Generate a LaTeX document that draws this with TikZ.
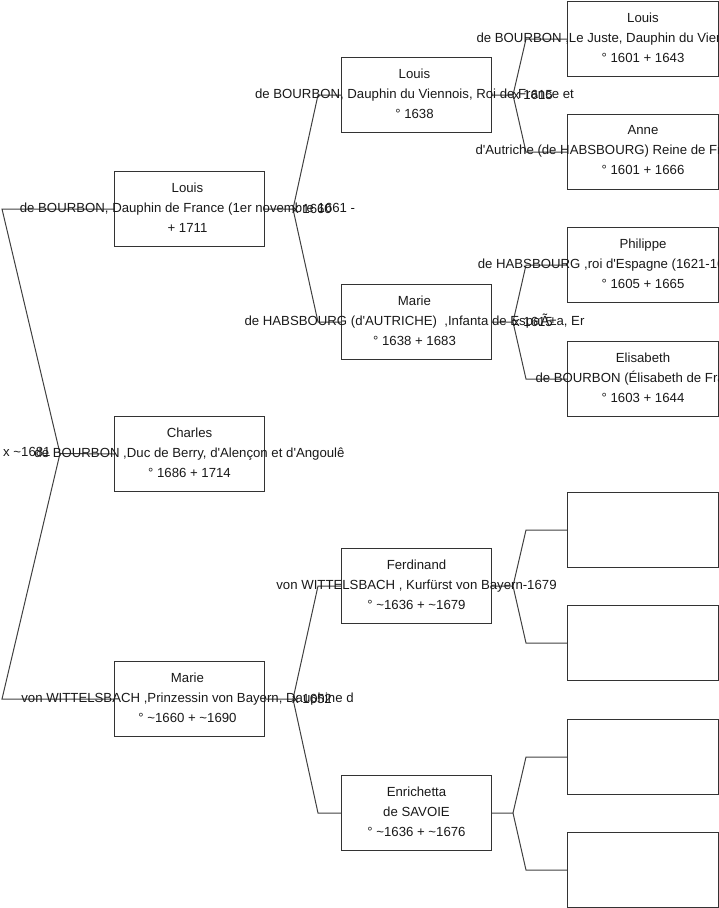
\documentclass[tikz,border=0pt]{standalone}
\usepackage{fontspec}
\newfontfamily\lsans{Liberation Sans}
\begin{document}
\begin{tikzpicture}[x=1pt,y=-1pt,
  box/.style={draw=black!80, line width=1pt, minimum width=150pt, minimum height=75pt, inner sep=0pt, anchor=north west},
  boxw/.style={box, minimum width=151pt},
  txt/.style={align=center, font=\lsans\fontsize{13.2}{20}\selectfont, text=black!90, inner sep=0pt},
  link/.style={draw=black!75, line width=1pt},
  mlabel/.style={anchor=west, font=\lsans\fontsize{13.2}{20}\selectfont, text=black!90, inner sep=0pt}]
\useasboundingbox (0,0) rectangle (719,908);
\begin{scope}
\clip (0,0) rectangle (719,908);
% level 1
\node[box] (louisA) at (114,171) {};
\node[box] (charles) at (114,416) {};
\node[box] (marieA) at (114,661) {};
% level 2
\node[box] (louisB) at (341,57) {};
\node[box] (marieB) at (341,284) {};
\node[box] (ferd) at (341,548) {};
\node[box] (enri) at (341,775) {};
% level 3
\node[boxw] (louisC) at (567,1) {};
\node[boxw] (anne) at (567,114) {};
\node[boxw] (phil) at (567,227) {};
\node[boxw] (elis) at (567,341) {};
\node[boxw] (e1) at (567,492) {};
\node[boxw] (e2) at (567,605) {};
\node[boxw] (e3) at (567,719) {};
\node[boxw] (e4) at (567,832) {};
% root connectors
\coordinate (rootfork) at (60,453.5);
\draw[link] (rootfork) -- ([xshift=-112pt]louisA.west) -- (louisA.west);
\draw[link] (rootfork) -- (charles.west);
\draw[link] (rootfork) -- ([xshift=-112pt]marieA.west) -- (marieA.west);
% level 1 -> 2
\draw[link] (louisA.east) -- ++(28,0) -- ([xshift=-23pt]louisB.west) -- (louisB.west);
\draw[link] (louisA.east) ++(28,0) -- ([xshift=-23pt]marieB.west) -- (marieB.west);
\draw[link] (marieA.east) -- ++(28,0) -- ([xshift=-23pt]ferd.west) -- (ferd.west);
\draw[link] (marieA.east) ++(28,0) -- ([xshift=-23pt]enri.west) -- (enri.west);
% level 2 -> 3
\draw[link] (louisB.east) -- ++(21,0) -- ([xshift=-41pt]louisC.west) -- (louisC.west);
\draw[link] (louisB.east) ++(21,0) -- ([xshift=-41pt]anne.west) -- (anne.west);
\draw[link] (marieB.east) -- ++(21,0) -- ([xshift=-41pt]phil.west) -- (phil.west);
\draw[link] (marieB.east) ++(21,0) -- ([xshift=-41pt]elis.west) -- (elis.west);
\draw[link] (ferd.east) -- ++(21,0) -- ([xshift=-41pt]e1.west) -- (e1.west);
\draw[link] (ferd.east) ++(21,0) -- ([xshift=-41pt]e2.west) -- (e2.west);
\draw[link] (enri.east) -- ++(21,0) -- ([xshift=-41pt]e3.west) -- (e3.west);
\draw[link] (enri.east) ++(21,0) -- ([xshift=-41pt]e4.west) -- (e4.west);
% texts
\node[txt] (tlouisA) at ([xshift=-2pt,yshift=1.5pt]louisA.center) {Louis\\de BOURBON, Dauphin de France (1er novembre 1661 -\\+ 1711};
\node[txt] (tcharles) at ([yshift=1.5pt]charles.center) {Charles\\de BOURBON ,Duc de Berry, d'Alençon et d'Angoulê\\° 1686 + 1714};
\node[txt] (tmarieA) at ([xshift=-2pt,yshift=1.5pt]marieA.center) {Marie\\von WITTELSBACH ,Prinzessin von Bayern, Dauphine d\\° \textasciitilde1660 + \textasciitilde1690};
\node[txt] (tlouisB) at ([xshift=-2pt,yshift=1.5pt]louisB.center) {Louis\\de BOURBON, Dauphin du Viennois, Roi de France et\\° 1638};
\node[txt] (tmarieB) at ([xshift=-2pt,yshift=1.5pt]marieB.center) {Marie\\de HABSBOURG (d'AUTRICHE)\ \ ,Infanta de EspaÃ±a, Er\\° 1638 + 1683};
\node[txt] (tferd) at ([yshift=1.5pt]ferd.center) {Ferdinand\\von WITTELSBACH , Kurfürst von Bayern-1679\\° \textasciitilde1636 + \textasciitilde1679};
\node[txt] (tenri) at ([yshift=1.5pt]enri.center) {Enrichetta\\de SAVOIE\\° \textasciitilde1636 + \textasciitilde1676};
\node[txt] (tlouisC) at ([yshift=1.5pt]louisC.center) {Louis\\de BOURBON ,Le Juste, Dauphin du Viennois, Roi de Fr\\° 1601 + 1643};
\node[txt] (tanne) at ([yshift=1.5pt]anne.center) {Anne\\d'Autriche (de HABSBOURG) Reine de France et de Nav\\° 1601 + 1666};
\node[txt] (tphil) at ([yshift=1.5pt]phil.center) {Philippe\\de HABSBOURG ,roi d'Espagne (1621-1665), roi de Por\\° 1605 + 1665};
\node[txt] (telis) at ([yshift=1.5pt]elis.center) {Elisabeth\\de BOURBON (Élisabeth de France)\\° 1603 + 1644};
% marriage labels
\node[mlabel] (m0) at (3,452) {x \textasciitilde1681};
\node[mlabel] (m1) at ([xshift=27pt]louisA.east) {x 1660};
\node[mlabel] (m2) at ([xshift=21pt]louisB.east) {x 1615};
\node[mlabel] (m3) at ([xshift=21pt]marieB.east) {x 1615};
\node[mlabel] (m4) at ([xshift=27pt]marieA.east) {x 1652};
\end{scope}
\end{tikzpicture}
\end{document}
